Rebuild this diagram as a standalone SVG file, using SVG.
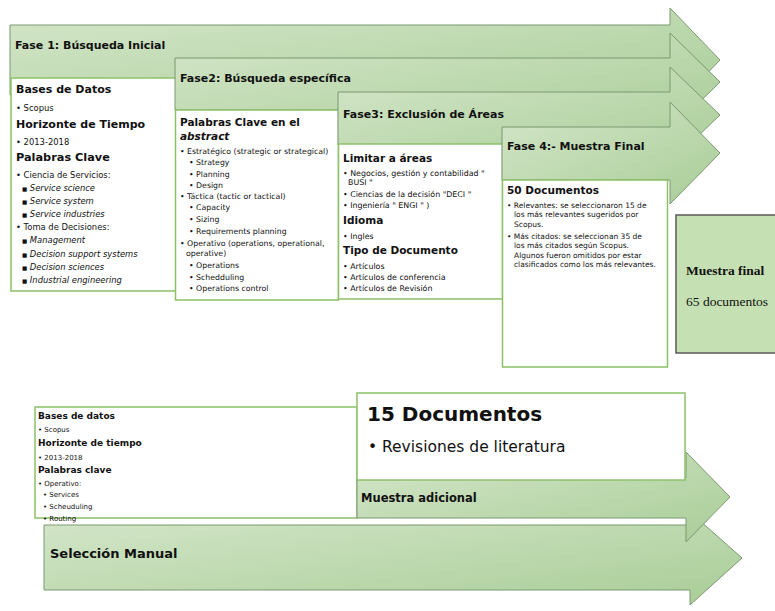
<svg xmlns="http://www.w3.org/2000/svg" width="775" height="611" viewBox="0 0 775 611">
<defs>
<linearGradient id="g" x1="0" y1="0" x2="1" y2="1">
<stop offset="0" stop-color="#d4e6ca"/>
<stop offset="1" stop-color="#a9cd97"/>
</linearGradient>
<style>
.arr{fill:url(#g);stroke:#7b9870;stroke-width:1}
.box{fill:#fff;stroke:#8cc168;stroke-width:1.5}
text{font-family:"DejaVu Sans","Liberation Sans",sans-serif;fill:#111}
.t{font-size:11px;font-weight:bold}
.h{font-size:11px;font-weight:bold}
.b1{font-size:8.4px}
.b2{font-size:7.8px}
.b3{font-size:7.9px}
.b4{font-size:7.5px}
.bs{font-size:7px}
.hs{font-size:9px;font-weight:bold}
.i{font-style:italic}
.sq{font-size:5.5px;font-style:normal}
.serif{font-family:"Liberation Serif","Times New Roman",serif}
</style>
</defs>
<rect width="775" height="611" fill="#fff"/>

<g id="fase1">
<polygon class="arr" points="10,25 670,25 670,8 720,60 670,112 670,95 10,95"/>
<text class="t" x="15" y="49">Fase 1: Búsqueda Inicial</text>
</g>
<g id="box1">
<rect class="box" x="11" y="78" width="165" height="213"/>
<text class="h" x="16" y="93">Bases de Datos</text>
<text class="b1" x="16" y="111">• Scopus</text>
<text class="h" x="16" y="128">Horizonte de Tiempo</text>
<text class="b1" x="16" y="145">• 2013-2018</text>
<text class="h" x="16" y="161" style="font-size:11.3px">Palabras Clave</text>
<text class="b1" x="16" y="178">• Ciencia de Servicios:</text>
<text class="b1 i" x="22" y="191"><tspan class="sq">■</tspan> Service science</text>
<text class="b1 i" x="22" y="204"><tspan class="sq">■</tspan> Service system</text>
<text class="b1 i" x="22" y="217"><tspan class="sq">■</tspan> Service industries</text>
<text class="b1" x="16" y="230">•  Toma de Decisiones:</text>
<text class="b1 i" x="22" y="243"><tspan class="sq">■</tspan> Management</text>
<text class="b1 i" x="22" y="257"><tspan class="sq">■</tspan> Decision support systems</text>
<text class="b1 i" x="22" y="270"><tspan class="sq">■</tspan> Decision sciences</text>
<text class="b1 i" x="22" y="283"><tspan class="sq">■</tspan> Industrial engineering</text>
</g>

<g id="fase2">
<polygon class="arr" points="175,58 670,58 670,33 720,82 670,131 670,110 175,110"/>
<text class="t" x="180" y="82">Fase2: Búsqueda específica</text>
</g>
<g id="box2">
<rect class="box" x="175.5" y="110" width="163" height="190"/>
<text class="h" x="180" y="126" style="font-size:10.5px">Palabras Clave en el</text>
<text class="h i" x="180" y="140" style="font-size:10.5px">abstract</text>
<text class="b2" x="180" y="154">• Estratégico (strategic or strategical)</text>
<text class="b2" x="189" y="165">• Strategy</text>
<text class="b2" x="189" y="177">• Planning</text>
<text class="b2" x="189" y="188">• Design</text>
<text class="b2" x="180" y="199">• Táctica (tactic or tactical)</text>
<text class="b2" x="189" y="210">• Capacity</text>
<text class="b2" x="189" y="222">• Sizing</text>
<text class="b2" x="189" y="234">• Requirements planning</text>
<text class="b2" x="180" y="246">• Operativo (operations, operational,</text>
<text class="b2" x="186" y="256">operative)</text>
<text class="b2" x="189" y="268">• Operations</text>
<text class="b2" x="189" y="280">• Schedduling</text>
<text class="b2" x="189" y="291">• Operations control</text>
</g>

<g id="fase3">
<polygon class="arr" points="338,92 670,92 670,67 720,115 670,163 670,145 338,145"/>
<text class="t" x="343" y="118">Fase3: Exclusión de Áreas</text>
</g>
<g id="box3">
<rect class="box" x="338.5" y="144" width="164" height="155"/>
<text class="h" x="343" y="162" style="font-size:10.5px">Limitar a áreas</text>
<text class="b3" x="343" y="176">• Negocios, gestión y contabilidad "</text>
<text class="b3" x="348" y="185">BUSI "</text>
<text class="b3" x="343" y="197">• Ciencias de la decisión "DECI "</text>
<text class="b3" x="343" y="208">• Ingeniería " ENGI " )</text>
<text class="h" x="343" y="224" style="font-size:10.5px">Idioma</text>
<text class="b3" x="343" y="239">• Ingles</text>
<text class="h" x="343" y="254" style="font-size:10.5px">Tipo de Documento</text>
<text class="b3" x="343" y="269">• Artículos</text>
<text class="b3" x="343" y="280">• Artículos de conferencia</text>
<text class="b3" x="343" y="291">• Artículos de Revisión</text>
</g>

<g id="fase4">
<polygon class="arr" points="502,127 670,127 670,102 720,153 670,204 670,180 502,180"/>
<text class="t" x="507" y="150">Fase 4:- Muestra Final</text>
</g>
<g id="box4">
<rect class="box" x="502.5" y="180" width="165" height="187"/>
<text class="h" x="507" y="194" style="font-size:10.5px">50 Documentos</text>
<text class="b4" x="507" y="208">• Relevantes: se seleccionaron 15 de</text>
<text class="b4" x="514" y="217">los más relevantes sugeridos por</text>
<text class="b4" x="514" y="227">Scopus.</text>
<text class="b4" x="507" y="239">• Más citados: se seleccionan 35 de</text>
<text class="b4" x="514" y="248">los más citados según Scopus.</text>
<text class="b4" x="514" y="258">Algunos fueron omitidos por estar</text>
<text class="b4" x="514" y="267">clasificados como los más relevantes.</text>
</g>

<g id="muestra-final">
<rect x="676" y="215" width="110" height="138" fill="#c5e0b3" stroke="#595959" stroke-width="1.5"/>
<text class="serif" x="686" y="275" style="font-size:13.5px;font-weight:bold">Muestra final</text>
<text class="serif" x="686" y="306" style="font-size:13.5px">65 documentos</text>
</g>

<g id="seleccion-manual">
<polygon class="arr" points="44,525 690,525 690,512 742,558 690,605 690,590 44,590"/>
<text class="t" x="50" y="558" style="font-size:13px">Selección Manual</text>
</g>
<g id="box-bases">
<rect class="box" x="35" y="407" width="322" height="111"/>
<text class="hs" x="38" y="419">Bases de datos</text>
<text class="bs" x="38" y="432">• Scopus</text>
<text class="hs" x="38" y="446">Horizonte de tiempo</text>
<text class="bs" x="38" y="460">• 2013-2018</text>
<text class="hs" x="38" y="473">Palabras clave</text>
<text class="bs" x="38" y="486">• Operativo:</text>
<text class="bs" x="43" y="497">• Services</text>
<text class="bs" x="43" y="509">• Scheuduling</text>
<text class="bs" x="43" y="521">• Routing</text>
</g>
<g id="muestra-adicional">
<polygon class="arr" points="357,478 686,478 686,452 730,497 686,542 686,518 357,518"/>
<text class="t" x="361" y="502" style="font-size:11.5px">Muestra adicional</text>
</g>
<g id="box-15">
<rect class="box" x="357" y="393" width="328" height="87"/>
<text x="367" y="421" style="font-size:20px;font-weight:bold">15 Documentos</text>
<text x="368" y="452" style="font-size:15.5px">•</text>
<text x="382" y="452" style="font-size:15.5px">Revisiones de literatura</text>
</g>
<g id="connectors"/>
</svg>
